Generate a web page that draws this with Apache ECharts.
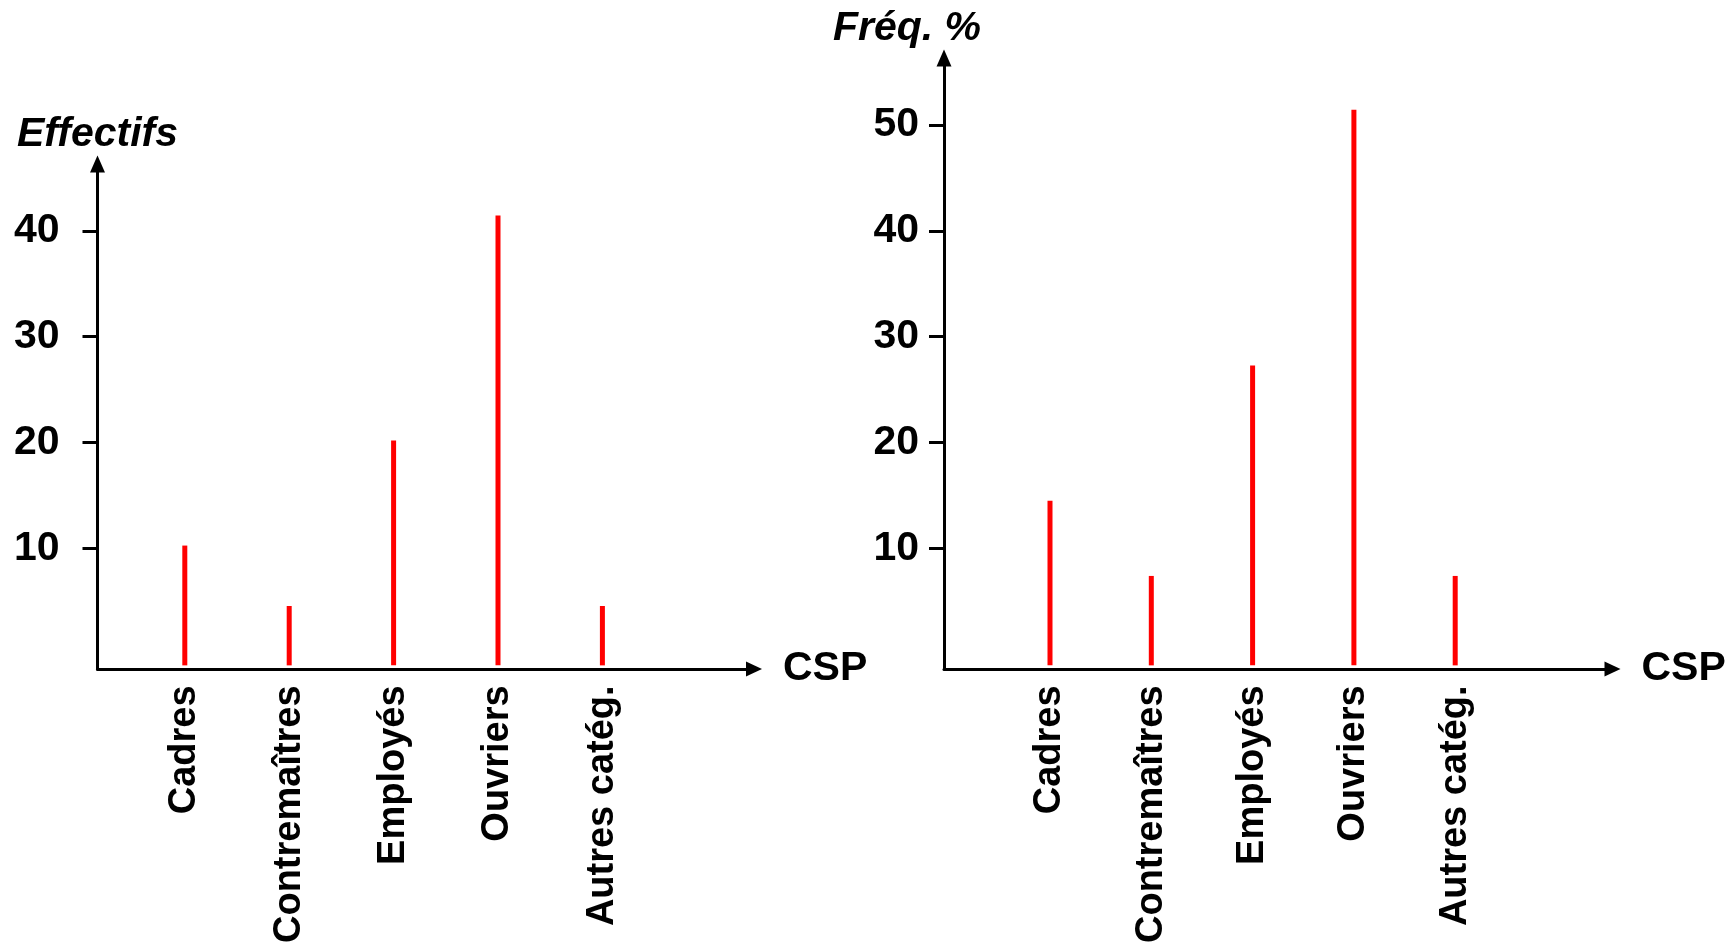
<!DOCTYPE html>
<html>
<head>
<meta charset="utf-8">
<script src="https://cdn.jsdelivr.net/npm/echarts@6/dist/echarts.min.js"></script>
<style>
html,body{margin:0;padding:0;background:#fff;}
#c{width:1735px;height:946px;}
</style>
</head>
<body>
<div id="c"></div>
<script>
// ---- data ----
const categories = ['Cadres', 'Contremaîtres', 'Employés', 'Ouvriers', 'Autres catég.'];
const effectifs = [10, 4.25, 20, 41.4, 4.25];
const frequences = [14.25, 7.1, 27.1, 51.4, 7.1];
const ticksEffectifs = [10, 20, 30, 40];
const ticksFreq = [10, 20, 30, 40, 50];

const FONT = "'Liberation Sans', Arial, Helvetica, sans-serif";
const LEFT_MIN = -1.4, LEFT_MAX = 46.31;
const RIGHT_MIN = -1.4, RIGHT_MAX = 56.33;

const chart = echarts.init(document.getElementById('c'), null, {renderer: 'canvas'});

function outerY(name, min, max, ticks, margin, namePad) {
  return {
    type: 'value', min: min, max: max, position: 'left',
    name: name, nameLocation: 'end', nameGap: 9,
    nameTextStyle: {fontFamily: FONT, fontSize: 41, fontWeight: 'bold', fontStyle: 'italic', color: '#000', padding: namePad},
    axisLine: {show: true, onZero: false, symbol: ['none', 'triangle'], symbolSize: [15, 17], lineStyle: {color: '#000', width: 3}},
    axisTick: {show: true, customValues: ticks, length: 15, inside: false, lineStyle: {color: '#000', width: 3}},
    axisLabel: {show: true, customValues: ticks, margin: margin, fontFamily: FONT, fontSize: 41, fontWeight: 'bold', color: '#000'},
    splitLine: {show: false}
  };
}
function outerX() {
  return {
    type: 'value', min: 0, max: 1, position: 'bottom',
    name: 'CSP', nameLocation: 'end', nameGap: 29,
    nameTextStyle: {fontFamily: FONT, fontSize: 41, fontWeight: 'bold', color: '#000'},
    axisLine: {show: true, onZero: false, symbol: ['none', 'triangle'], symbolSize: [15, 16], lineStyle: {color: '#000', width: 3}},
    axisTick: {show: false}, axisLabel: {show: false}, splitLine: {show: false}
  };
}
function innerX(gridIndex) {
  return {
    type: 'category', gridIndex: gridIndex, data: categories, boundaryGap: true, position: 'bottom',
    axisLine: {show: false}, axisTick: {show: false}, splitLine: {show: false},
    axisLabel: {show: true, interval: 0, rotate: 90, margin: 20, fontFamily: FONT, fontSize: 38, fontWeight: 'bold', color: '#000'}
  };
}
function innerY(gridIndex, min, max) {
  return {type: 'value', gridIndex: gridIndex, min: min, max: max, show: false, splitLine: {show: false}};
}
function stems(xIdx, yIdx, values, yMin) {
  return {
    type: 'custom', xAxisIndex: xIdx, yAxisIndex: yIdx, clip: false, silent: true,
    data: categories.map((c, i) => [c, values[i]]),
    encode: {x: 0, y: 1},
    renderItem: function (params, api) {
      const top = api.coord([api.value(0), api.value(1)]);
      const base = api.coord([api.value(0), yMin]);
      return {
        type: 'rect',
        shape: {x: top[0] - 2.5, y: top[1], width: 5, height: base[1] - top[1]},
        style: {fill: '#ff0000'}
      };
    }
  };
}

const option = {
  backgroundColor: '#fff',
  animation: false,
  grid: [
    {left: 97.5, top: 164, width: 656.5, height: 505},
    {left: 132.6, top: 164, width: 522, height: 505},
    {left: 944, top: 58, width: 668.5, height: 611},
    {left: 999.35, top: 58, width: 506.5, height: 611}
  ],
  xAxis: [
    Object.assign(outerX(), {gridIndex: 0}),
    innerX(1),
    Object.assign(outerX(), {gridIndex: 2}),
    innerX(3)
  ],
  yAxis: [
    Object.assign(outerY('Effectifs', LEFT_MIN, LEFT_MAX, ticksEffectifs, 38, [0, 0, 0, 0]), {gridIndex: 0}),
    innerY(1, LEFT_MIN, LEFT_MAX),
    Object.assign(outerY('Fréq. %', RIGHT_MIN, RIGHT_MAX, ticksFreq, 25, [0, 74, 0, 0]), {gridIndex: 2}),
    innerY(3, RIGHT_MIN, RIGHT_MAX)
  ],
  series: [
    stems(1, 1, effectifs, LEFT_MIN),
    stems(3, 3, frequences, RIGHT_MIN)
  ]
};
chart.setOption(option);
</script>
</body>
</html>
